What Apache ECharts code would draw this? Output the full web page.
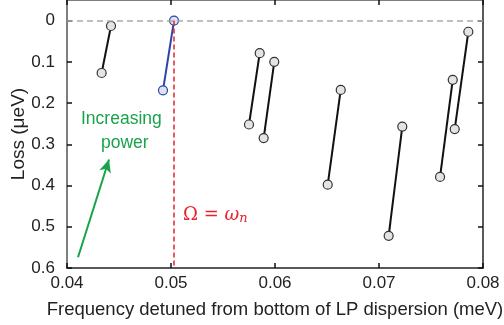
<!DOCTYPE html>
<html>
<head>
<meta charset="utf-8">
<script src="https://cdn.jsdelivr.net/npm/echarts@6/dist/echarts.min.js"></script>
<style>html,body{margin:0;padding:0;background:#fff}#c{width:504px;height:325px}</style>
</head>
<body>
<div id="c"></div>
<script>
// Each measured pair: low-power point (higher loss) and high-power point (lower loss)
var lowPowerFreq  = [0.04333, 0.04923, 0.05750, 0.05891, 0.06507, 0.07093, 0.07587, 0.07728];
var lowPowerLoss  = [0.127,   0.169,   0.252,   0.285,   0.398,   0.522,   0.379,   0.263];
var highPowerFreq = [0.04423, 0.05029, 0.05853, 0.05993, 0.06632, 0.07224, 0.07709, 0.07859];
var highPowerLoss = [0.013,   0.000,   0.079,   0.100,   0.168,   0.257,   0.1435,  0.027];
var resonantPair = 1;           // index of the pair drawn in blue
var omegaN = 0.0503;            // Ω = ω_n
var xTicks = [0.04, 0.05, 0.06, 0.07, 0.08];
var yTicks = [0, 0.1, 0.2, 0.3, 0.4, 0.5, 0.6];
var arrowFrom = [0.04106, 0.574];
var arrowTo   = [0.04404, 0.337];

var FONT = 'Liberation Sans';
var RED = '#e8232e';
var series = [];
for (var i = 0; i < lowPowerFreq.length; i++) {
  var blue = (i === resonantPair);
  series.push({
    type: 'line',
    xAxisIndex: 0, yAxisIndex: 0,
    data: [[lowPowerFreq[i], lowPowerLoss[i]], [highPowerFreq[i], highPowerLoss[i]]],
    symbol: 'circle', symbolSize: 9,
    lineStyle: {color: blue ? '#2a45a8' : '#111', width: 2},
    itemStyle: {color: blue ? '#dde2f2' : '#e4e4e4', borderColor: blue ? '#2a45a8' : '#333', borderWidth: 1.2},
    z: 3, silent: true, animation: false
  });
}
// reference lines and arrow
series.push({
  type: 'line', data: [], xAxisIndex: 0, yAxisIndex: 0, animation: false,
  markLine: {
    silent: true, symbol: 'none', animation: false, label: {show: false},
    data: [
      [{coord: [xTicks[0], 0], lineStyle: {color: '#aaa', type: [6, 4], width: 1.5}},
       {coord: [xTicks[xTicks.length - 1], 0]}],
      [{coord: [omegaN, 0], lineStyle: {color: RED, type: [5, 3], width: 1.5}},
       {coord: [omegaN, yTicks[yTicks.length - 1]]}],
      [{coord: arrowFrom, symbol: 'none', lineStyle: {color: '#16a34a', type: 'solid', width: 2}},
       {coord: arrowTo, symbol: 'arrow', symbolSize: [9, 13]}]
    ]
  }
});

var chart = echarts.init(document.getElementById('c'), null, {renderer: 'canvas'});
chart.setOption({
  animation: false,
  grid: {left: 67, right: 21, top: 0, bottom: 57, containLabel: false, outerBoundsMode: 'none'},
  xAxis: [{
    type: 'value', min: xTicks[0], max: xTicks[xTicks.length - 1], interval: 0.01,
    name: 'Frequency detuned from bottom of LP dispersion (meV)',
    nameLocation: 'middle', nameGap: 32,
    nameTextStyle: {fontFamily: FONT, fontSize: 18.5, color: '#222'},
    axisLine: {show: true, onZero: false, lineStyle: {color: '#222', width: 1.5}},
    axisTick: {show: true, inside: true, length: 5, lineStyle: {color: '#111', width: 1.5}},
    axisLabel: {fontFamily: FONT, fontSize: 17, color: '#222', margin: 7,
      formatter: function (v) { return (+v.toFixed(2)).toString(); }},
    splitLine: {show: false}
  }, {
    type: 'value', position: 'top', min: xTicks[0], max: xTicks[xTicks.length - 1], interval: 0.01,
    axisLine: {show: true, onZero: false, lineStyle: {color: '#555', width: 1.5}},
    axisTick: {show: true, inside: true, length: 5, lineStyle: {color: '#111', width: 1.5}},
    axisLabel: {show: false}, splitLine: {show: false}
  }],
  yAxis: [{
    type: 'value', inverse: true, min: -0.05, max: 0.6,
    name: 'Loss (μeV)', nameLocation: 'middle', nameGap: 39, nameMoveOverlap: false,
    nameTextStyle: {fontFamily: FONT, fontSize: 19, color: '#222'},
    axisLine: {show: true, onZero: false, lineStyle: {color: '#555', width: 1.5}},
    axisTick: {show: true, inside: true, length: 5, lineStyle: {color: '#111', width: 1.5}, customValues: yTicks},
    axisLabel: {fontFamily: FONT, fontSize: 17, color: '#222', margin: 12, customValues: yTicks,
      formatter: function (v) { return (+v.toFixed(1)).toString(); }},
    splitLine: {show: false}
  }, {
    type: 'value', inverse: true, min: -0.05, max: 0.6, position: 'right',
    axisLine: {show: true, onZero: false, lineStyle: {color: '#222', width: 1.5}},
    axisTick: {show: true, inside: true, length: 5, lineStyle: {color: '#111', width: 1.5}, customValues: yTicks},
    axisLabel: {show: false}, splitLine: {show: false}
  }],
  graphic: [
    {type: 'text', left: 81, top: 110, style: {text: 'Increasing', fontFamily: FONT, fontSize: 17.5, fill: '#1aa34a'}},
    {type: 'text', left: 101, top: 134, style: {text: 'power', fontFamily: FONT, fontSize: 17.5, fill: '#1aa34a'}},
    {type: 'text', left: 183, top: 206, style: {
      text: '{u|Ω = }{i|ω}{s|n}', fill: RED,
      rich: {
        u: {fontFamily: 'DejaVu Serif', fontSize: 18, fill: RED},
        i: {fontFamily: 'DejaVu Serif', fontStyle: 'italic', fontSize: 18, fill: RED},
        s: {fontFamily: 'DejaVu Serif', fontStyle: 'italic', fontSize: 13, fill: RED, padding: [7, 0, 0, 0]}
      }
    }}
  ],
  series: series
});
</script>
</body>
</html>
